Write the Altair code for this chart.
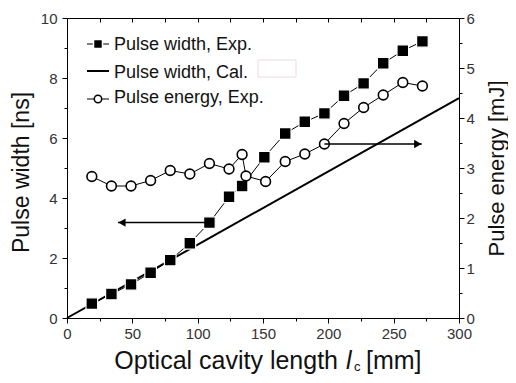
import altair as alt
import pandas as pd

# ---------------- data ----------------
length_exp = [19, 34, 49, 64, 79, 94, 109, 124, 134, 151, 167, 182, 197, 212, 227, 242, 257, 272]
width_exp = [0.48, 0.80, 1.12, 1.51, 1.93, 2.49, 3.18, 4.04, 4.40, 5.36, 6.15, 6.54, 6.82, 7.41, 7.82, 8.49, 8.91, 9.22]

length_energy = [19, 34, 49, 64, 79, 94, 109, 124, 134, 137, 152, 167, 182, 197, 212, 227, 242, 257, 272]
energy_exp = [2.83, 2.64, 2.64, 2.75, 2.95, 2.88, 3.09, 2.98, 3.27, 2.84, 2.73, 3.13, 3.28, 3.48, 3.89, 4.21, 4.46, 4.71, 4.64]

length_cal = [0, 300]
width_cal = [0, 7.33]

# arrows (annotation, data coordinates)
arrow_left_x = [39, 109]
arrow_left_y = 3.18        # ns
arrow_right_x = [197, 271.5]
arrow_right_y = 3.48       # mJ

x_major = [0, 50, 100, 150, 200, 250, 300]
x_minor = [25, 75, 125, 175, 225, 275]
x_all = [0, 25, 50, 75, 100, 125, 150, 175, 200, 225, 250, 275, 300]
w_major = [0, 2, 4, 6, 8, 10]
w_minor = [1, 3, 5, 7, 9]
e_major = [0, 1, 2, 3, 4, 5, 6]
e_minor = [0.5, 1.5, 2.5, 3.5, 4.5, 5.5]

legend_labels = ["Pulse width, Exp.", "Pulse width, Cal.", "Pulse energy, Exp."]

# ---------------- tables ----------------
df_w = pd.DataFrame({"x": length_exp, "y": width_exp})
df_e = pd.DataFrame({"x": length_energy, "y": energy_exp})
df_cal = pd.DataFrame({"x": length_cal, "y": width_cal})
df_al = pd.DataFrame({"x": [arrow_left_x[0]], "x2": [arrow_left_x[1]], "y": [arrow_left_y]})
df_ar = pd.DataFrame({"x": [arrow_right_x[0]], "x2": [arrow_right_x[1]], "y": [arrow_right_y]})
df_one = pd.DataFrame({"x": [0], "y": [0]})

W, H = 392, 300
FONT = "Liberation Sans"

xs = alt.Scale(domain=[0, 300], nice=False)
ws = alt.Scale(domain=[0, 10], nice=False)
es = alt.Scale(domain=[0, 6], nice=False)

X0 = alt.X("x:Q", scale=xs, axis=None)
YW0 = alt.Y("y:Q", scale=ws, axis=None)
YE0 = alt.Y("y:Q", scale=es, axis=None)

lab = dict(labelFontSize=15, labelColor="#333", labelFont=FONT, tickColor="black",
           domainColor="black", grid=False, labelFlush=False, labelOverlap=False)

# calculated line + main bottom/left axes
cal = alt.Chart(df_cal).mark_line(color="black", strokeWidth=2).encode(
    x=alt.X("x:Q", scale=xs, axis=alt.Axis(orient="bottom", values=x_major, tickSize=5,
                                           labelPadding=3, title=None, **lab)),
    y=alt.Y("y:Q", scale=ws, axis=alt.Axis(orient="left", values=w_major, tickSize=5,
                                           labelPadding=5, title="Pulse width [ns]",
                                           titleFont=FONT, titleFontSize=23, titleFontWeight="normal",
                                           titleColor="#111", titleAngle=270, titleAlign="center",
                                           titleBaseline="middle", titleX=-46, titleY=154, **lab)),
)

# minor ticks / frame axes (invisible marks)
minor_left = alt.Chart(df_one).mark_point(opacity=0).encode(
    y=alt.Y("y:Q", scale=ws, axis=alt.Axis(orient="left", values=w_minor, tickSize=3, labels=False,
                                           domain=False, title=None, tickColor="black", grid=False)))
minor_bottom = alt.Chart(df_one).mark_point(opacity=0).encode(
    x=alt.X("x:Q", scale=xs, axis=alt.Axis(orient="bottom", values=x_minor, tickSize=3, labels=False,
                                           domain=False, title=None, tickColor="black", grid=False)))
top_frame = alt.Chart(df_one).mark_point(opacity=0).encode(
    x=alt.X("x:Q", scale=xs, axis=alt.Axis(orient="bottom", offset=-H, values=x_all, tickSize=4,
                                           labels=False, domain=True, domainColor="black",
                                           title=None, tickColor="black", grid=False)))
minor_right = alt.Chart(df_one).mark_point(opacity=0).encode(
    y=alt.Y("y:Q", scale=es, axis=alt.Axis(orient="right", values=e_minor, tickSize=3, labels=False,
                                           domain=False, title=None, tickColor="black", grid=False)))

# experimental pulse width
w_line = alt.Chart(df_w).mark_line(color="black", strokeWidth=1).encode(x=X0, y=YW0)
w_pts = alt.Chart(df_w).mark_point(shape="square", filled=True, fill="black", stroke="white",
                                   strokeWidth=1.2, size=135, opacity=1).encode(x=X0, y=YW0)

# experimental pulse energy (right axis)
e_line = alt.Chart(df_e).mark_line(color="black", strokeWidth=1).encode(x=X0, y=YE0)
e_pts = alt.Chart(df_e).mark_point(shape="circle", filled=False, fill="white", stroke="black",
                                   strokeWidth=1.6, size=95, opacity=1).encode(
    x=X0,
    y=alt.Y("y:Q", scale=es, axis=alt.Axis(orient="right", values=e_major, tickSize=5,
                                           labelPadding=2, title="Pulse energy [mJ]",
                                           titleFont=FONT, titleFontSize=22, titleFontWeight="normal",
                                           titleColor="#111", titleAngle=270, titleAlign="center",
                                           titleBaseline="middle", titleX=37, titleY=150, **lab)),
)

# arrows
al_rule = alt.Chart(df_al).mark_rule(color="black", strokeWidth=1.5).encode(
    x=X0, x2="x2:Q", y=YW0)
al_head = alt.Chart(df_al).mark_point(shape="triangle-left", filled=True, color="black",
                                      size=70, opacity=1).encode(
    x=alt.X("x:Q", scale=xs, axis=None), y=YW0, xOffset=alt.value(4))
ar_rule = alt.Chart(df_ar).mark_rule(color="black", strokeWidth=1.5).encode(
    x=X0, x2="x2:Q", y=YE0)
ar_head = alt.Chart(df_ar).mark_point(shape="triangle-right", filled=True, color="black",
                                      size=70, opacity=1).encode(
    x=alt.X("x2:Q", scale=xs, axis=None), y=YE0, xOffset=alt.value(-4))

# legend (inside plot, top-left)
leg_font = dict(font=FONT, fontSize=18, color="#111", align="left", baseline="alphabetic")
leg = []
for i, (lbl, yb) in enumerate(zip(legend_labels, [32, 60, 85])):
    leg.append(alt.Chart(df_one).mark_text(**leg_font).encode(
        x=alt.value(47), y=alt.value(yb), text=alt.value(lbl)))
sym_y = [26, 53, 81]
leg.append(alt.Chart(df_one).mark_rule(color="black", strokeWidth=1).encode(
    x=alt.value(20), x2=alt.value(42), y=alt.value(sym_y[0])))
leg.append(alt.Chart(df_one).mark_point(shape="square", filled=True, fill="black", stroke="white",
                                        strokeWidth=1.5, size=80, opacity=1).encode(
    x=alt.value(31), y=alt.value(sym_y[0])))
leg.append(alt.Chart(df_one).mark_rule(color="black", strokeWidth=2).encode(
    x=alt.value(20), x2=alt.value(42), y=alt.value(sym_y[1])))
leg.append(alt.Chart(df_one).mark_rule(color="black", strokeWidth=1).encode(
    x=alt.value(20), x2=alt.value(42), y=alt.value(sym_y[2])))
leg.append(alt.Chart(df_one).mark_point(shape="circle", filled=False, fill="white", stroke="black",
                                        strokeWidth=1.5, size=55, opacity=1).encode(
    x=alt.value(31), y=alt.value(sym_y[2])))
# faint box artifact next to the legend
leg.append(alt.Chart(df_one).mark_rect(fill="white", stroke="#efd9dd", strokeWidth=1).encode(
    x=alt.value(191), x2=alt.value(229), y=alt.value(42), y2=alt.value(59)))

# x-axis title with italic l and subscript c
xt_font = dict(font=FONT, color="#111", baseline="alphabetic")
xt = [
    alt.Chart(df_one).mark_text(align="right", fontSize=25, **xt_font).encode(
        x=alt.value(271), y=alt.value(351), text=alt.value("Optical cavity length")),
    alt.Chart(df_one).mark_text(align="left", fontSize=25, fontStyle="italic", **xt_font).encode(
        x=alt.value(279), y=alt.value(351), text=alt.value("l")),
    alt.Chart(df_one).mark_text(align="left", fontSize=13, **xt_font).encode(
        x=alt.value(287), y=alt.value(353), text=alt.value("c")),
    alt.Chart(df_one).mark_text(align="left", fontSize=25, **xt_font).encode(
        x=alt.value(299), y=alt.value(351), text=alt.value("[mm]")),
]

chart = alt.layer(
    cal, minor_left, minor_bottom, top_frame, minor_right,
    w_line, w_pts, e_line, e_pts, al_rule, al_head, ar_rule, ar_head,
    *leg, *xt
).resolve_scale(y="independent").resolve_axis(x="independent", y="independent").properties(
    width=W, height=H,
    padding={"left": 59, "top": 10, "right": 49, "bottom": 57},
    autosize=alt.AutoSizeParams(type="none"),
).configure_view(stroke=None).configure(font=FONT, background="white")

chart.save("out.html", embed_options={"renderer": "svg", "actions": False})
